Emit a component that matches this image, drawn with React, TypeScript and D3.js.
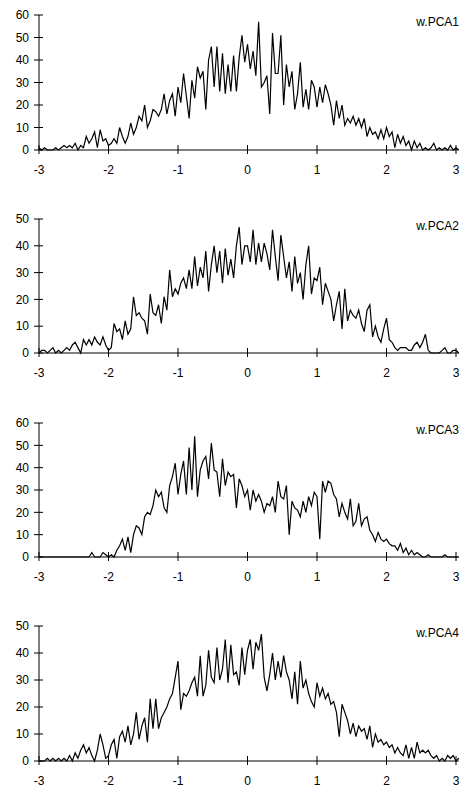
import React from "react";
import * as d3 from "d3";

// x grid: starts at -3, step 0.04
const X_START = -3;
const X_STEP = 0.04;
const xTicks = [-3, -2, -1, 0, 1, 2, 3];

const pca1 = [
  1, 0, 1, 0, 0, 0, 1, 0, 1, 2, 1, 2, 1, 3, 0, 2, 1, 6, 3, 5,
  8, 1, 9, 4, 5, 2, 3, 5, 3, 10, 6, 3, 6, 12, 7, 10, 15, 13, 20, 10,
  13, 18, 17, 15, 18, 25, 16, 22, 25, 15, 28, 21, 34, 24, 14, 31, 23, 37, 32, 35,
  18, 40, 46, 28, 46, 26, 43, 25, 38, 26, 42, 26, 41, 51, 39, 47, 36, 44, 33, 57,
  28, 30, 33, 16, 52, 34, 34, 51, 20, 38, 28, 35, 18, 25, 39, 19, 27, 18, 31, 28,
  19, 28, 21, 29, 25, 20, 11, 22, 14, 20, 11, 14, 12, 15, 11, 14, 10, 14, 6, 10,
  7, 8, 5, 9, 5, 10, 6, 8, 1, 7, 3, 6, 2, 4, 0, 4, 1, 3, 0, 1,
  0, 1, 3, 0, 1, 0, 1, 0, 2, 0, 1, 0,
];

const pca2 = [
  0, 1, 1, 0, 1, 2, 0, 1, 0, 1, 2, 1, 3, 4, 2, 0, 5, 3, 5, 3,
  6, 4, 3, 6, 3, 1, 2, 11, 8, 9, 5, 12, 7, 9, 21, 14, 15, 13, 12, 7,
  22, 15, 14, 18, 11, 21, 16, 31, 21, 24, 22, 26, 28, 24, 31, 24, 36, 25, 32, 28,
  38, 23, 33, 40, 30, 38, 26, 39, 29, 35, 28, 40, 47, 33, 40, 40, 34, 46, 33, 41,
  34, 41, 37, 31, 46, 36, 27, 44, 36, 28, 34, 23, 36, 26, 30, 20, 33, 40, 22, 28,
  27, 32, 18, 26, 23, 20, 12, 18, 23, 9, 24, 12, 16, 14, 13, 16, 11, 8, 16, 18,
  6, 10, 6, 4, 9, 13, 5, 4, 2, 1, 2, 2, 2, 1, 1, 3, 4, 2, 4, 7,
  1, 0, 0, 0, 0, 1, 2, 0, 0, 1, 1, 0,
];

const pca3 = [
  0, 0, 0, 0, 0, 0, 0, 0, 0, 0, 0, 0, 0, 0, 0, 0, 0, 0, 0, 2,
  0, 0, 0, 2, 1, 0, 1, 0, 3, 5, 8, 3, 9, 2, 10, 14, 13, 10, 18, 20,
  19, 23, 30, 27, 29, 22, 20, 32, 36, 42, 28, 37, 43, 28, 49, 30, 54, 27, 39, 43,
  45, 35, 51, 39, 38, 27, 44, 32, 38, 36, 37, 22, 35, 32, 27, 30, 21, 30, 25, 28,
  25, 20, 24, 23, 27, 20, 34, 27, 26, 32, 10, 25, 22, 21, 18, 25, 20, 27, 23, 29,
  27, 8, 34, 29, 34, 33, 28, 26, 18, 24, 20, 17, 26, 14, 16, 24, 14, 17, 18, 12,
  10, 7, 11, 8, 7, 8, 6, 5, 5, 3, 6, 2, 4, 1, 3, 1, 2, 1, 0, 0,
  1, 0, 0, 0, 0, 0, 1, 0, 0, 0, 0, 0,
];

const pca4 = [
  0, 0, 0, 1, 0, 1, 0, 1, 0, 1, 0, 2, 0, 3, 1, 4, 6, 3, 5, 2,
  0, 4, 10, 6, 1, 2, 6, 8, 1, 9, 11, 7, 13, 6, 10, 18, 8, 13, 16, 7,
  23, 12, 23, 12, 16, 18, 20, 23, 25, 31, 37, 19, 25, 24, 26, 29, 31, 24, 39, 24,
  28, 41, 31, 29, 42, 30, 34, 45, 29, 43, 32, 33, 28, 42, 32, 41, 45, 34, 44, 41,
  47, 31, 26, 32, 40, 30, 37, 31, 39, 33, 30, 23, 33, 21, 37, 27, 30, 25, 22, 20,
  29, 24, 27, 23, 25, 21, 22, 18, 9, 21, 18, 15, 10, 14, 9, 13, 11, 12, 8, 13,
  5, 10, 7, 8, 6, 7, 5, 6, 3, 5, 3, 2, 6, 1, 5, 1, 7, 3, 4, 3,
  4, 2, 1, 2, 0, 1, 0, 2, 1, 2, 0, 1,
];

const panelLabels = ["w.PCA1", "w.PCA2", "w.PCA3", "w.PCA4"];
const panelSeries = [pca1, pca2, pca3, pca4];
const panelYMax = [60, 50, 60, 50];

const W = 468;
const H = 795;
const LEFT = 39;
const RIGHT = 456;
const panelTops = [15, 219, 423, 626];
const panelBottoms = [150, 353, 557, 761];
const FONT = "Arial, 'Liberation Sans', Helvetica, sans-serif";

function Panel({ idx }: { idx: number }) {
  const data = panelSeries[idx];
  const top = panelTops[idx];
  const bottom = panelBottoms[idx];
  const x = d3.scaleLinear().domain([-3, 3]).range([LEFT, RIGHT]);
  const y = d3.scaleLinear().domain([0, panelYMax[idx]]).range([bottom, top]);
  const yTicks = d3.range(0, panelYMax[idx] + 1, 10);
  const pts: [number, number][] = data.map((v, i) => [X_START + i * X_STEP, v]);
  const line = d3
    .line<[number, number]>()
    .x((d) => x(d[0]))
    .y((d) => y(d[1]));
  const xEnd = X_START + (data.length - 1) * X_STEP;
  return (
    <g>
      <line x1={LEFT} x2={LEFT} y1={y(0)} y2={y(panelYMax[idx])} stroke="#000" strokeWidth={1} />
      {yTicks.map((t) => (
        <g key={"y" + t}>
          <line x1={LEFT - 5} x2={LEFT + 4} y1={y(t)} y2={y(t)} stroke="#000" strokeWidth={1} />
          <text
            x={LEFT - 10}
            y={y(t)}
            dy="0.35em"
            textAnchor="end"
            fontFamily={FONT}
            fontSize={12}
            fill="#000"
          >
            {t}
          </text>
        </g>
      ))}
      <line x1={x(-3)} x2={x(xEnd)} y1={y(0)} y2={y(0)} stroke="#000" strokeWidth={1} />
      {xTicks.map((t) => (
        <g key={"x" + t}>
          <line x1={x(t)} x2={x(t)} y1={y(0) - 5} y2={y(0) + 4} stroke="#000" strokeWidth={1} />
          <text
            x={x(t)}
            y={y(0) + 24}
            textAnchor="middle"
            fontFamily={FONT}
            fontSize={12}
            fill="#000"
          >
            {t}
          </text>
        </g>
      ))}
      <path d={line(pts) || ""} fill="none" stroke="#000" strokeWidth={1.2} strokeLinejoin="miter" />
      <text x={459} y={top + 11} textAnchor="end" fontFamily={FONT} fontSize={12} fill="#000">
        {panelLabels[idx]}
      </text>
    </g>
  );
}

export default function App() {
  return (
    <svg
      width={W}
      height={H}
      viewBox={`0 0 ${W} ${H}`}
      style={{ position: "absolute", left: 0, top: 0, background: "#fff" }}
    >
      <rect x={0} y={0} width={W} height={H} fill="#fff" />
      {[0, 1, 2, 3].map((i) => (
        <Panel key={i} idx={i} />
      ))}
    </svg>
  );
}
